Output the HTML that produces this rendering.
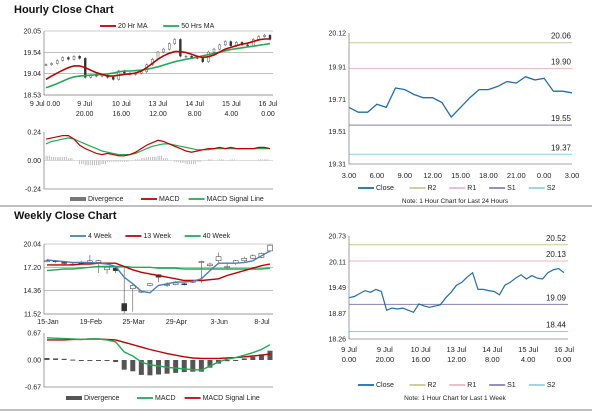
<!DOCTYPE html>
<html><head><meta charset="utf-8"><style>
body{margin:0;background:#fff;width:600px;height:413px;overflow:hidden;font-family:"Liberation Sans",Arial,sans-serif}
svg text{font-family:"Liberation Sans",Arial,sans-serif}
</style></head><body>
<svg id="root" width="600" height="413" xmlns="http://www.w3.org/2000/svg">
<text x="14" y="13" font-size="11" font-weight="bold" fill="#111">Hourly Close Chart</text>
<line x1="0" y1="206" x2="592" y2="206" stroke="#aaa" stroke-width="1.5"/>
<text x="14" y="219" font-size="11" font-weight="bold" fill="#111">Weekly Close Chart</text>
<line x1="0" y1="410" x2="592" y2="410" stroke="#aaa" stroke-width="1.5"/>
</svg>
<script>
// ---- Hourly (week) close data ----
const hClose=[19.25,19.28,19.35,19.42,19.38,19.45,19.40,18.95,19.00,18.98,19.00,18.95,18.90,19.10,19.05,19.02,19.05,19.08,19.25,19.38,19.55,19.62,19.75,19.85,19.45,19.45,19.42,19.40,19.32,19.55,19.62,19.72,19.80,19.70,19.78,19.72,19.70,19.85,19.92,19.95,19.85];
const hMA20=[18.90,18.98,19.05,19.12,19.18,19.22,19.22,19.18,19.12,19.06,19.02,18.98,18.98,19.00,19.02,19.03,19.05,19.10,19.18,19.28,19.38,19.46,19.52,19.56,19.56,19.54,19.50,19.45,19.42,19.44,19.48,19.55,19.62,19.66,19.70,19.74,19.76,19.80,19.84,19.86,19.86];
const hMA50=[18.70,18.75,18.80,18.86,18.92,18.96,18.98,18.99,19.00,19.01,19.02,19.03,19.05,19.08,19.10,19.10,19.11,19.12,19.14,19.17,19.20,19.24,19.28,19.32,19.35,19.38,19.40,19.43,19.46,19.49,19.52,19.55,19.58,19.61,19.63,19.65,19.67,19.69,19.71,19.73,19.75];
const hMACD=[0.18,0.19,0.20,0.21,0.21,0.18,0.13,0.10,0.08,0.06,0.05,0.06,0.05,0.04,0.04,0.05,0.07,0.10,0.13,0.15,0.17,0.16,0.14,0.12,0.10,0.08,0.07,0.08,0.09,0.10,0.10,0.11,0.10,0.11,0.10,0.10,0.10,0.10,0.11,0.11,0.10];
const hSignal=[0.14,0.16,0.17,0.18,0.19,0.18,0.16,0.14,0.12,0.10,0.08,0.07,0.06,0.05,0.05,0.05,0.06,0.08,0.10,0.12,0.13,0.14,0.14,0.13,0.12,0.11,0.10,0.09,0.09,0.09,0.10,0.10,0.10,0.10,0.10,0.10,0.10,0.10,0.10,0.10,0.10];
const hXTop=["9 Jul 0.00","9 Jul","10 Jul","13 Jul","14 Jul","15 Jul","16 Jul"];
const hXBot=["","20.00","16.00","12.00","8.00","4.00","0.00"];
const hYTicks=[18.53,19.04,19.54,20.05];
const hMacdTicks=[-0.24,0.00,0.24];
// ---- 24 hour close ----
const dClose=[19.66,19.63,19.63,19.68,19.66,19.78,19.77,19.74,19.72,19.72,19.69,19.60,19.66,19.72,19.77,19.77,19.79,19.82,19.81,19.85,19.83,19.84,19.76,19.76,19.75];
const dXTicks=["3.00","6.00","9.00","12.00","15.00","18.00","21.00","0.00","3.00"];
const dYTicks=[19.31,19.51,19.71,19.91,20.12];
const dLevels=[20.06,19.90,19.55,19.37];
const wkLevels=[20.52,20.13,19.09,18.44];
const wkYTicks=[18.26,18.87,19.49,20.11,20.73];
// ---- Weekly ----
const wClose=[18.0,17.9,17.7,17.6,17.7,18.0,18.0,17.2,16.8,11.9,15.0,14.3,15.2,16.0,15.1,15.3,15.1,15.5,17.9,17.6,18.5,17.3,18.0,18.3,18.6,18.9,19.9];
const wOpen=[17.9,18.0,17.8,17.6,17.6,17.8,17.8,16.9,17.1,12.8,14.6,14.2,15.0,16.3,15.0,15.1,15.2,15.4,17.8,17.4,18.0,17.2,17.7,18.0,18.3,18.4,19.2];
const wHigh=[18.2,18.1,17.9,17.8,18.0,18.7,18.1,17.3,17.2,17.2,15.2,14.4,15.3,16.4,15.4,15.5,15.3,15.6,18.0,17.8,19.0,17.8,18.1,18.5,18.8,19.0,20.0];
const wLow=[17.8,17.7,17.5,17.4,17.5,17.7,16.5,16.4,16.5,11.6,11.8,14.1,14.9,15.4,14.8,15.0,15.0,15.3,15.3,17.2,17.8,16.9,17.5,17.9,18.2,18.3,19.0];
const w4=[18.1,18.0,17.9,17.8,17.8,17.8,17.7,17.6,17.3,16.0,15.2,14.3,14.1,15.0,15.2,15.4,15.4,15.5,15.8,16.8,17.7,17.7,17.7,17.8,18.0,18.6,19.2];
const w13=[17.5,17.5,17.5,17.5,17.6,17.6,17.7,17.7,17.7,17.3,16.9,16.6,16.4,16.2,16.0,15.8,15.6,15.6,15.6,15.7,15.8,16.2,16.5,16.8,17.1,17.4,17.6];
const w40=[16.8,16.9,17.0,17.0,17.1,17.2,17.3,17.3,17.3,17.3,17.2,17.2,17.2,17.1,17.1,17.1,17.0,17.0,17.0,17.0,17.0,17.0,17.0,17.0,17.0,17.0,17.1];
const wMACD=[0.55,0.54,0.53,0.52,0.51,0.52,0.52,0.50,0.45,0.20,0.10,-0.05,-0.12,-0.15,-0.18,-0.20,-0.22,-0.24,-0.25,-0.15,-0.05,0.02,0.06,0.12,0.18,0.26,0.38];
const wSignal=[0.50,0.50,0.50,0.51,0.51,0.52,0.52,0.51,0.50,0.44,0.38,0.32,0.26,0.21,0.16,0.12,0.08,0.05,0.04,0.04,0.04,0.05,0.06,0.08,0.10,0.12,0.15];
const wXTicks=["15-Jan","19-Feb","25-Mar","29-Apr","3-Jun","8-Jul"];
const wYTicks=[11.52,14.36,17.20,20.04];
const wMacdTicks=[-0.67,0.00,0.67];

const NS="http://www.w3.org/2000/svg",root=document.getElementById('root');
function mk(tag,at,parent){const e=document.createElementNS(NS,tag);for(const k in at)e.setAttribute(k,at[k]);(parent||root).appendChild(e);return e;}
function lin(d0,d1,r0,r1){return v=>r0+(v-d0)*(r1-r0)/(d1-d0);}
function txt(x,y,s,anchor,size,name){const t=mk('text',{x:x,y:y,'font-size':size||7,fill:'#222','text-anchor':anchor||'start'});t.textContent=s;

return t;}
function path(pts,col,w,name){const p=mk('polyline',{points:pts.map(p=>p[0].toFixed(1)+','+p[1].toFixed(1)).join(' '),fill:'none',stroke:col,'stroke-width':w});

return p;}
function hline(x1,x2,y,col,name,w){const l=mk('line',{x1:x1,x2:x2,y1:y,y2:y,stroke:col,'stroke-width':w||0.8});

return l;}
function axes(x0,x1,y0,y1){const a=mk('path',{d:`M${x0},${y0}V${y1}H${x1}`,fill:'none',stroke:'#888','stroke-width':0.8});

}
function legend(items,y,x0){let x=x0;items.forEach(it=>{
 if(it[2]==='bar'){const r=mk('rect',{x:x,y:y-4,width:16,height:4,fill:it[1]});}
 else hline(x,x+16,y-2,it[1],'legend-swatch',1.8);
 txt(x+18,y,it[0],'start',7,'legend-entry');x+=18+it[0].length*3.9+14;});}
function yTicks(ticks,sy,x,grid,x1){ticks.forEach(v=>{txt(x-3,sy(v)+2.5,v.toFixed(2),'end',7,'y-tick-label');
 if(grid)hline(x,x1,sy(v),'#999','gridline',0.6);});}

// ===== Hourly candle chart =====
(function(){const X0=44,X1=273,sy=lin(18.53,20.05,95,31),sx=lin(0,hClose.length-1,X0+2,X1-3);
 legend([["20 Hr MA","#c00000"],["50 Hrs MA","#1faa55"]],28,100);
 yTicks(hYTicks,sy,X0,true,X1);
 hClose.forEach((c,i)=>{const o=i?hClose[i-1]:c;const x=sx(i);
  const w=mk('line',{x1:x,x2:x,y1:sy(Math.max(o,c)+0.03),y2:sy(Math.min(o,c)-0.03),stroke:'#333','stroke-width':0.5});
  
  const r=mk('rect',{x:x-1,y:sy(Math.max(o,c)),width:2,height:Math.max(0.8,Math.abs(sy(o)-sy(c))),fill:c>=o?'#fff':'#333',stroke:'#333','stroke-width':0.4});
  });
 path(hMA50.map((v,i)=>[sx(i),sy(v)]),'#1faa55',1.6,'ma50-line');
 path(hMA20.map((v,i)=>[sx(i),sy(v)]),'#c00000',1.6,'ma20-line');
 axes(X0,X1,31,95);
 const lx=lin(0,hXTop.length-1,48,268);
 hXTop.forEach((s,i)=>{txt(lx(i)+(i?0:-3),106,s,'middle',7,'x-tick-label');txt(lx(i),116,hXBot[i],'middle',7,'x-tick-label');});
 // MACD
 const my=lin(-0.24,0.24,189,132),mx=lin(0,hMACD.length-1,X0+2,X1-3);
 yTicks(hMacdTicks,my,X0,false);
 hMACD.forEach((v,i)=>{for(let k=0;k<3;k++){const d=(v-hSignal[i]);const x=mx(i)+k*1.8;
  const l=mk('line',{x1:x,x2:x,y1:my(0),y2:my(d),stroke:'#999','stroke-width':0.6});}});
 hline(X0,X1,my(0),'#bbb','zero-line',0.5);
 path(hSignal.map((v,i)=>[mx(i),my(v)]),'#1faa55',1.2,'signal-line');
 path(hMACD.map((v,i)=>[mx(i),my(v)]),'#c00000',1.2,'macd-line');
 axes(X0,X1,132,189);
 legend([["Divergence","#777","bar"],["MACD","#c00000"],["MACD Signal Line","#1faa55"]],201,70);
})();

// ===== 24h close chart =====
(function(){const X0=349,X1=572,sy=lin(19.31,20.12,164,33),sx=lin(0,dClose.length-1,X0,X1);
 yTicks(dYTicks,sy,X0,false);
 const cols=['#c8c89a','#e6b8c0','#8a7fb0','#8fd0e0'],nm=['r2-line','r1-line','s1-line','s2-line'];
 dLevels.forEach((v,i)=>{hline(X0,X1,sy(v),cols[i],nm[i],1);txt(X1-1,sy(v)-4,v.toFixed(2),'end',8,'level-label');});
 path(dClose.map((v,i)=>[sx(i),sy(v)]),'#1f6ea8',1.3,'close-line');
 axes(X0,X1,33,164);
 const tx=lin(0,dXTicks.length-1,X0,X1);dXTicks.forEach((s,i)=>txt(tx(i),178,s,'middle',7.5,'x-tick-label'));
 legend([["Close","#1f6ea8"],["R2","#c8c89a"],["R1","#e6b8c0"],["S1","#8a7fb0"],["S2","#8fd0e0"]],190,358);
 txt(455,203,"Note: 1 Hour Chart for Last 24 Hours",'middle',6.5,'chart-note');
})();

// ===== Weekly candle chart =====
(function(){const X0=44,X1=273,sy=lin(11.52,20.04,314,244),sx=lin(0,wClose.length-1,X0+3,X1-3);
 legend([["4 Week","#4a7ebb"],["13 Week","#c00000"],["40 Week","#1faa55"]],238,70);
 yTicks(wYTicks,sy,X0,true,X1);
 wClose.forEach((c,i)=>{const o=wOpen[i],x=sx(i);
  const w=mk('line',{x1:x,x2:x,y1:sy(wHigh[i]),y2:sy(wLow[i]),stroke:'#555','stroke-width':0.6});
  
  const r=mk('rect',{x:x-2.5,y:sy(Math.max(o,c)),width:5,height:Math.max(1,Math.abs(sy(o)-sy(c))),fill:c>=o?'#fff':'#333',stroke:'#333','stroke-width':0.5});
  });
 path(w40.map((v,i)=>[sx(i),sy(v)]),'#1faa55',1.4,'ma40-line');
 path(w13.map((v,i)=>[sx(i),sy(v)]),'#c00000',1.4,'ma13-line');
 path(w4.map((v,i)=>[sx(i),sy(v)]),'#4a7ebb',1.4,'ma4-line');
 axes(X0,X1,244,314);
 const lx=lin(0,wXTicks.length-1,48,262);wXTicks.forEach((s,i)=>txt(lx(i),324,s,'middle',7,'x-tick-label'));
 const my=lin(-0.67,0.67,387,333),mx=sx;
 yTicks(wMacdTicks,my,X0,false);
 wMACD.forEach((v,i)=>{const d=v-wSignal[i],y=my(Math.max(0,d)),h=Math.max(1,Math.abs(my(d)-my(0)));
  const r=mk('rect',{x:mx(i)-2.5,y:y,width:5,height:h,fill:'#555'});});
 path(wSignal.map((v,i)=>[mx(i),my(v)]),'#c00000',1.4,'signal-line');
 path(wMACD.map((v,i)=>[mx(i),my(v)]),'#1faa55',1.4,'macd-line');
 axes(X0,X1,333,387);
 legend([["Divergence","#555","bar"],["MACD","#1faa55"],["MACD Signal Line","#c00000"]],400,66);
})();

// ===== Weekly (1 week hourly) close chart =====
(function(){const X0=349,X1=568,sy=lin(18.26,20.73,339,236),sx=lin(0,hClose.length-1,X0,X1-4);
 yTicks(wkYTicks,sy,X0,false);
 const cols=['#c8c89a','#e6b8c0','#8a7fb0','#8fd0e0'],nm=['r2-line','r1-line','s1-line','s2-line'];
 wkLevels.forEach((v,i)=>{hline(X0,X1,sy(v),cols[i],nm[i],1);txt(X1-2,sy(v)-4,v.toFixed(2),'end',8,'level-label');});
 path(hClose.map((v,i)=>[sx(i),sy(v)]),'#1f6ea8',1.2,'close-line');
 axes(X0,X1,236,339);
 const tx=lin(0,hXTop.length-1,X0,X1-4);
 hXTop.forEach((s,i)=>{txt(tx(i),352,i?s:"9 Jul",'middle',7.5,'x-tick-label');txt(tx(i),362,i?hXBot[i]:"0.00",'middle',7.5,'x-tick-label');});
 legend([["Close","#1f6ea8"],["R2","#c8c89a"],["R1","#e6b8c0"],["S1","#8a7fb0"],["S2","#8fd0e0"]],387,358);
 txt(455,400,"Note: 1 Hour Chart for Last 1 Week",'middle',6.5,'chart-note');
})();
</script>
</body></html>
